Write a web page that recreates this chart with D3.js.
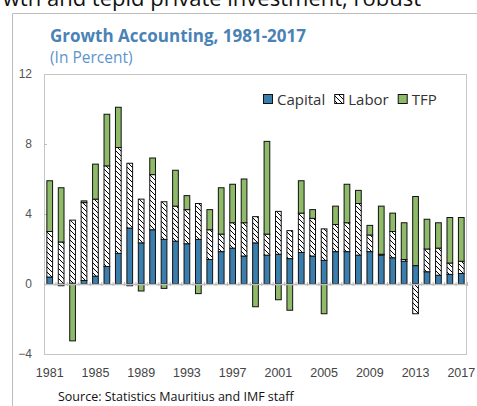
<!DOCTYPE html>
<html>
<head>
<meta charset="utf-8">
<script src="https://cdn.jsdelivr.net/npm/d3@7"></script>
<style>
  body { margin: 0; background: #fff; }
  svg { display: block; font-family: "Open Sans", "Noto Sans", sans-serif; }
</style>
</head>
<body>
<div id="chart"></div>
<script>
// Data (percent)
const years = d3.range(1981, 2018);
const capital = [0.4, -0.1, 0.05, 0.2, 0.45, 1.0, 1.75, 3.2, 2.35, 3.1, 2.55, 2.45, 2.3, 2.55,
  1.4, 1.85, 2.05, 1.6, 2.35, 1.65, 1.7, 1.45, 1.8, 1.6, 1.35, 1.85, 1.85, 1.65,
  1.85, 1.65, 1.5, 1.3, 1.05, 0.7, 0.5, 0.55, 0.6];
const labor = [2.6, 2.4, 3.6, 4.45, 4.4, 5.75, 6.05, 3.7, 2.5, 3.15, 2.15, 2.0, 1.95, 2.05,
  1.7, 1.0, 1.45, 1.9, 1.5, 1.2, 2.45, 1.6, 2.25, 2.15, 1.8, 1.55, 1.65, 2.95,
  0.95, 0.05, 1.5, 0.1, -1.7, 1.3, 1.55, 0.65, 0.7];
const tfp = [2.9, 3.1, -3.25, 0.1, 2.0, 2.95, 2.3, -0.1, -0.4, 0.95, -0.25, 2.05, 0.8, -0.55,
  1.15, 2.65, 2.2, 2.5, -1.3, 5.3, -0.9, -1.5, 1.85, 0.5, -1.7, 1.05, 2.2, 0.75,
  0.55, 2.75, 1.05, 2.1, 3.95, 1.7, 1.45, 2.6, 2.5];
const seriesNames = ["Capital", "Labor", "TFP"];
const yTicks = [-4, 0, 4, 8, 12];
const labelYears = d3.range(1981, 2018, 4);

const width = 477;
const height = 406;
const plot = { left: 44, right: 467, top: 74, bottom: 354 };

const rows = years.map((yr, i) => ({ year: yr, Capital: capital[i], Labor: labor[i], TFP: tfp[i] }));
const stacked = d3.stack().keys(seriesNames).offset(d3.stackOffsetDiverging)(rows);

const x = d3.scaleBand()
  .domain(years)
  .range([plot.left, plot.right])
  .paddingInner(0.5)
  .paddingOuter(0.25);

const y = d3.scaleLinear()
  .domain([-4, 12])
  .range([plot.bottom, plot.top]);

const svg = d3.select("#chart")
  .append("svg")
  .attr("width", width)
  .attr("height", height);

// hatch for Labor
const defs = svg.append("defs");
const pat = defs.append("pattern")
  .attr("id", "hatch")
  .attr("patternUnits", "userSpaceOnUse")
  .attr("width", 5)
  .attr("height", 5);
pat.append("rect").attr("width", 5).attr("height", 5).attr("fill", "#fff");
pat.append("path")
  .attr("d", "M-1,4 l2,2 M0,0 l5,5 M4,-1 l2,2")
  .attr("stroke", "#000")
  .attr("stroke-width", 1);

const fills = { Capital: "#3a7eae", Labor: "url(#hatch)", TFP: "#8fba6a" };

// text of the page above the chart, cut by the crop as in the reference
svg.append("text")
  .attr("x", 421)
  .attr("y", 6)
  .attr("text-anchor", "end")
  .style("font-size", "22px")
  .attr("fill", "#111")
  .text("wth and tepid private investment, robust");

// outer frame
svg.append("path")
  .attr("d", `M12.5,${height} V13.5 H${width}`)
  .attr("fill", "none")
  .attr("stroke", "#bdbdbd");

svg.append("text")
  .attr("x", 50)
  .attr("y", 42)
  .style("font-size", "17px")
  .style("font-weight", "bold")
  .attr("fill", "#4a82b6")
  .text("Growth Accounting, 1981-2017");

svg.append("text")
  .attr("x", 50)
  .attr("y", 63)
  .style("font-size", "15.5px")
  .attr("fill", "#5b95cc")
  .text("(In Percent)");

// plot border
svg.append("rect")
  .attr("x", plot.left + 0.5)
  .attr("y", plot.top + 0.5)
  .attr("width", plot.right - plot.left - 1)
  .attr("height", plot.bottom - plot.top)
  .attr("fill", "none")
  .attr("stroke", "#c6c6c6");

// y labels
svg.append("g")
  .attr("transform", "translate(32,0)")
  .call(d3.axisLeft(y).tickValues(yTicks).tickSize(0).tickPadding(0))
  .call(g => g.select(".domain").remove())
  .call(g => g.selectAll("text").style("font-size", "12px").attr("fill", "#555").style("font-family", "inherit"));

// inward y ticks
svg.append("g")
  .attr("transform", `translate(${plot.left},0)`)
  .call(d3.axisRight(y).tickValues([4, 8]).tickSize(3).tickFormat(""))
  .call(g => g.select(".domain").remove())
  .call(g => g.selectAll("line").attr("stroke", "#bbb"));

// bars
svg.append("g")
  .selectAll("g")
  .data(stacked)
  .join("g")
    .attr("fill", d => fills[d.key])
  .selectAll("rect")
  .data(d => d)
  .join("rect")
    .attr("x", d => x(d.data.year))
    .attr("width", x.bandwidth())
    .attr("y", d => y(d[1]))
    .attr("height", d => Math.max(0, y(d[0]) - y(d[1])))
    .attr("stroke", d => (d[1] - d[0] > 0.001 ? "#111" : "none"))
    .attr("stroke-width", 1);

// zero line with small category ticks
const idx = d3.scaleLinear().domain([0, years.length]).range([plot.left, plot.right]);
svg.append("g")
  .attr("transform", `translate(0,${y(0) - 2})`)
  .call(d3.axisBottom(idx).tickValues(d3.range(0, years.length + 1)).tickSize(4).tickFormat(""))
  .call(g => g.select(".domain").remove())
  .call(g => g.selectAll("line").attr("stroke", "#bbb"));
svg.append("line")
  .attr("x1", plot.left).attr("x2", plot.right)
  .attr("y1", y(0) + 0.5).attr("y2", y(0) + 0.5)
  .attr("stroke", "#bbb")
  .attr("stroke-width", 1.5);

// x labels
svg.append("g")
  .attr("transform", "translate(0,368)")
  .call(d3.axisBottom(x).tickValues(labelYears).tickSize(0).tickPadding(0))
  .call(g => g.select(".domain").remove())
  .call(g => g.selectAll("text").style("font-size", "12.5px").attr("fill", "#444").style("font-family", "inherit"));

// legend
const legend = svg.append("g").attr("transform", "translate(263,94)");
let lx = 0;
seriesNames.forEach(name => {
  legend.append("rect")
    .attr("x", lx + 0.5).attr("y", 0.5)
    .attr("width", 9).attr("height", 9)
    .attr("fill", fills[name])
    .attr("stroke", "#111");
  const t = legend.append("text")
    .attr("x", lx + 14)
    .attr("y", 10.5)
    .style("font-size", "15px")
    .attr("fill", "#333")
    .text(name);
  lx += 14 + t.node().getComputedTextLength() + 9;
});

svg.append("text")
  .attr("x", 58)
  .attr("y", 401)
  .style("font-size", "12.5px")
  .attr("fill", "#111")
  .text("Source: Statistics Mauritius and IMF staff");
</script>
</body>
</html>
